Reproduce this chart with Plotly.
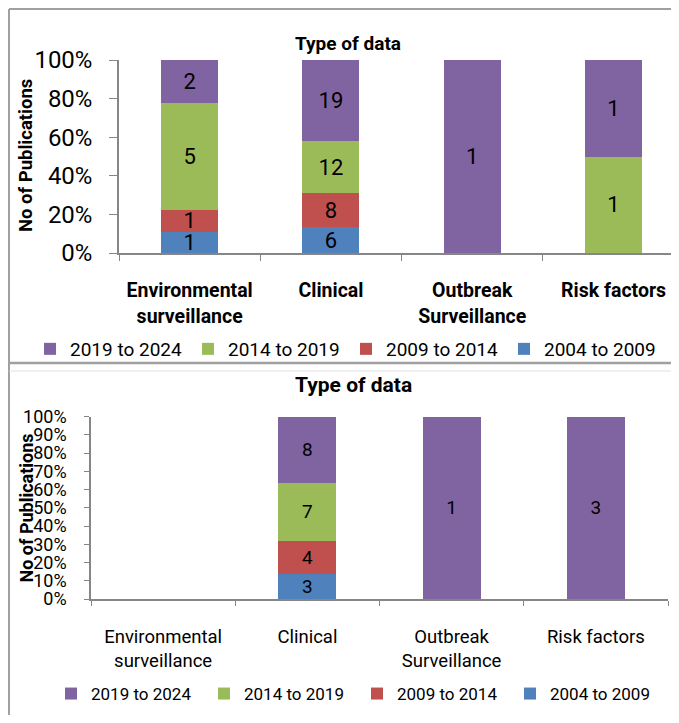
import plotly.graph_objects as go

# ---------------- data ----------------
categories = ["Environmental<br>surveillance", "Clinical", "Outbreak<br>Surveillance", "Risk factors"]
series_names = ["2004 to 2009", "2009 to 2014", "2014 to 2019", "2019 to 2024"]
series_colors = ["#4F81BD", "#C0504D", "#9BBB59", "#8064A2"]

top_2004_2009 = [1, 6, 0, 0]
top_2009_2014 = [1, 8, 0, 0]
top_2014_2019 = [5, 12, 0, 1]
top_2019_2024 = [2, 19, 1, 1]

bottom_2004_2009 = [0, 3, 0, 0]
bottom_2009_2014 = [0, 4, 0, 0]
bottom_2014_2019 = [0, 7, 0, 0]
bottom_2019_2024 = [0, 8, 1, 3]

top_series = [top_2004_2009, top_2009_2014, top_2014_2019, top_2019_2024]
bottom_series = [bottom_2004_2009, bottom_2009_2014, bottom_2014_2019, bottom_2019_2024]

chart_title = "Type of data"
y_title = "No of Publications"

# ---------------- layout helpers ----------------
# the page body adds an 8px margin on every side; keep the figure inside the window
OFF = 8
W, H = 679 - 2 * OFF, 723 - 2 * OFF
FONT = "Roboto, Liberation Sans, sans-serif"


def px_x(p):
    return (p - OFF) / W


def px_y(p):
    return 1 - (p - OFF) / H


def labels(vals):
    return [str(v) if v else "" for v in vals]


fig = go.Figure()

for name, color, vals in zip(series_names, series_colors, top_series):
    fig.add_trace(go.Bar(
        x=categories, y=vals, name=name, marker=dict(color=color, line=dict(width=0)),
        text=labels(vals), texttemplate="%{text}", textposition="inside",
        insidetextanchor="middle", textangle=0, constraintext="none",
        textfont=dict(family=FONT, size=22, color="black"),
        width=0.403, xaxis="x", yaxis="y", legend="legend",
    ))

for name, color, vals in zip(series_names, series_colors, bottom_series):
    fig.add_trace(go.Bar(
        x=categories, y=vals, name=name, marker=dict(color=color, line=dict(width=0)),
        text=labels(vals), texttemplate="%{text}", textposition="inside",
        insidetextanchor="middle", textangle=0, constraintext="none",
        textfont=dict(family=FONT, size=19, color="black"),
        width=0.402, xaxis="x2", yaxis="y2", legend="legend2",
    ))

axis_gray = "#868686"
top_cat_px = 141.3  # pixel width of one category in the upper chart
top_x_end = -0.5 + (W + OFF - 119) / top_cat_px

fig.update_layout(
    width=W, height=H, autosize=False,
    margin=dict(l=0, r=0, t=0, b=0, autoexpand=False),
    paper_bgcolor="white", plot_bgcolor="white",
    barmode="stack", barnorm="percent",
    font=dict(family=FONT, color="black"),
    showlegend=True,
    xaxis=dict(
        domain=[px_x(119), 1], range=[-0.5, top_x_end], type="category",
        categoryorder="array", categoryarray=categories,
        showline=True, linecolor=axis_gray, linewidth=1.5,
        ticks="outside", tickson="boundaries", ticklen=6, tickcolor=axis_gray,
        tickangle=0,
        tickfont=dict(family=FONT, size=19.5, weight="bold", color="black"),
        ticklabelstandoff=19, showgrid=False, anchor="y", fixedrange=True,
    ),
    yaxis=dict(
        domain=[px_y(253), px_y(60)], range=[0, 100], dtick=20, ticksuffix="%",
        showline=True, linecolor=axis_gray, linewidth=1.5,
        ticks="outside", ticklen=8, tickcolor=axis_gray,
        tickfont=dict(family=FONT, size=24, color="black"),
        ticklabelstandoff=12, showgrid=False, zeroline=False, anchor="x",
    ),
    xaxis2=dict(
        domain=[px_x(91), px_x(668)], range=[-0.5, 3.5], type="category",
        categoryorder="array", categoryarray=categories,
        showline=True, linecolor=axis_gray, linewidth=1.5,
        ticks="outside", tickson="boundaries", ticklen=5, tickcolor=axis_gray,
        tickangle=0,
        tickfont=dict(family=FONT, size=18.5, color="black"),
        ticklabelstandoff=20, showgrid=False, anchor="y2",
    ),
    yaxis2=dict(
        domain=[px_y(599), px_y(416.7)], range=[0, 100], dtick=10, ticksuffix="%",
        showline=True, linecolor=axis_gray, linewidth=1.5,
        ticks="outside", ticklen=5, tickcolor=axis_gray,
        tickfont=dict(family=FONT, size=18, color="black"),
        ticklabelstandoff=14, showgrid=False, zeroline=False, anchor="x2",
    ),
    legend=dict(
        orientation="h", traceorder="reversed", x=px_x(30), xanchor="left",
        y=px_y(349), yanchor="middle", entrywidth=113, entrywidthmode="pixels",
        font=dict(family=FONT, size=19, color="black"), bgcolor="rgba(0,0,0,0)",
    ),
    legend2=dict(
        orientation="h", traceorder="reversed", x=px_x(51), xanchor="left",
        y=px_y(694), yanchor="middle", entrywidth=108, entrywidthmode="pixels",
        font=dict(family=FONT, size=17, color="black"), bgcolor="rgba(0,0,0,0)",
    ),
    annotations=[
        dict(text="<b>" + chart_title + "</b>", x=px_x(348), y=px_y(43), xref="paper", yref="paper",
             showarrow=False, font=dict(family=FONT, size=19, color="black"), xanchor="center", yanchor="middle"),
        dict(text="<b>" + chart_title + "</b>", x=px_x(353.5), y=px_y(385), xref="paper", yref="paper",
             showarrow=False, font=dict(family=FONT, size=21, color="black"), xanchor="center", yanchor="middle"),
        dict(text="<b>" + y_title + "</b>", x=px_x(26), y=px_y(156), xref="paper", yref="paper",
             showarrow=False, textangle=-90, font=dict(family=FONT, size=18.5, color="black"),
             xanchor="center", yanchor="middle"),
        dict(text="<b>" + y_title + "</b>", x=px_x(26), y=px_y(508.5), xref="paper", yref="paper",
             showarrow=False, textangle=-90, font=dict(family=FONT, size=18, color="black"),
             xanchor="center", yanchor="middle"),
    ],
    shapes=[
        # panel frames
        dict(type="line", xref="paper", yref="paper", x0=px_x(9), x1=1, y0=px_y(9), y1=px_y(9),
             line=dict(color="#a0a0a0", width=2)),
        dict(type="line", xref="paper", yref="paper", x0=px_x(9), x1=px_x(9), y0=px_y(9), y1=0,
             line=dict(color="#a0a0a0", width=2)),
        dict(type="line", xref="paper", yref="paper", x0=px_x(9), x1=1, y0=px_y(363), y1=px_y(363),
             line=dict(color="#a0a0a0", width=2.5)),
        dict(type="line", xref="paper", yref="paper", x0=px_x(9), x1=1, y0=px_y(371), y1=px_y(371),
             line=dict(color="#e0e0e0", width=1)),
    ],
)

fig.write_html("out.html", config={"displayModeBar": False})
